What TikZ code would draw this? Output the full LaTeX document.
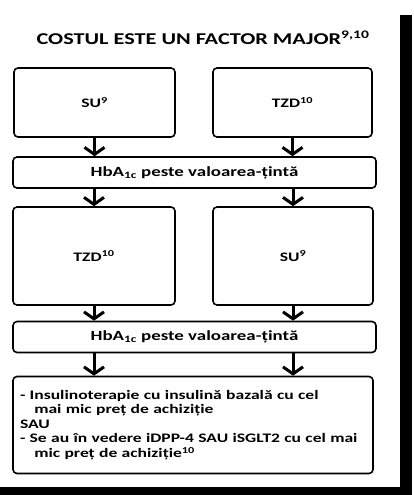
\documentclass[tikz,border=0pt]{standalone}
\usepackage{fontspec}
\setmainfont{Carlito}[FakeStretch=1.35]
\usetikzlibrary{arrows.meta}

\tikzset{
  stepbox/.style={draw, line width=1.6pt, rounded corners=4pt, inner sep=4pt, font=\bfseries\fontsize{13}{15}\selectfont},
  bandbox/.style={stepbox, minimum width=363pt, minimum height=31pt, font=\bfseries\fontsize{14}{16}\selectfont},
  flow/.style={line width=3pt, -{Straight Barb[length=7pt,width=20pt]}}
}

\begin{document}
\begin{tikzpicture}[x=1pt,y=-1pt]
        \useasboundingbox (0,0) rectangle (414,495);
        % shadow of the frame
        \fill (400,15) rectangle (412,492);
        \fill (0,487) rectangle (412,495);
        \node[font=\bfseries\fontsize{16.5}{18}\selectfont] (title) at (203,38) {COSTUL ESTE UN FACTOR MAJOR\textsuperscript{9,10}};
        % first line of treatment
        \node[stepbox, minimum width=161pt, minimum height=69pt] (su1) at (94.5,102.5) {SU\textsuperscript{9}};
        \node[stepbox, minimum width=159pt, minimum height=69pt] (tzd1) at (292.5,102.5) {TZD\textsuperscript{10}};
        \node[bandbox] (band1) at (194.5,172.5) {HbA\textsubscript{1c} peste valoarea-țintă};
        % second line of treatment
        \node[stepbox, minimum width=162pt, minimum height=98pt] (tzd2) at (94,256) {TZD\textsuperscript{10}};
        \node[stepbox, minimum width=160pt, minimum height=98pt] (su2) at (293,256) {SU\textsuperscript{9}};
        \node[bandbox] (band2) at (194.5,337) {HbA\textsubscript{1c} peste valoarea-țintă};
        % third line of treatment
        \node[stepbox, minimum width=360pt, minimum height=97pt, inner xsep=7pt, text width=346pt, align=left, font=\bfseries\fontsize{13}{14.5}\selectfont] (final) at (193,425)
          {- Insulinoterapie cu insulină bazală cu cel\\
           \hspace*{1.1em}mai mic preț de achiziție\\
           SAU\\
           - Se au în vedere iDPP-4 SAU iSGLT2 cu cel mai\\
           \hspace*{1.1em}mic preț de achiziție\textsuperscript{10}};
        % arrows
        \coordinate (left3) at (band2.south -| tzd2.south);
        \coordinate (right3) at (band2.south -| su2.south);
        \draw[flow] (su1.south) -- (su1.south |- band1.north);
        \draw[flow] (tzd1.south) -- (tzd1.south |- band1.north);
        \draw[flow] (band1.south -| tzd2.north) -- (tzd2.north);
        \draw[flow] (band1.south -| su2.north) -- (su2.north);
        \draw[flow] (tzd2.south) -- (tzd2.south |- band2.north);
        \draw[flow] (su2.south) -- (su2.south |- band2.north);
        \draw[flow] (left3) -- (left3 |- final.north);
        \draw[flow] (right3) -- (right3 |- final.north);
    \end{tikzpicture}
\end{document}
